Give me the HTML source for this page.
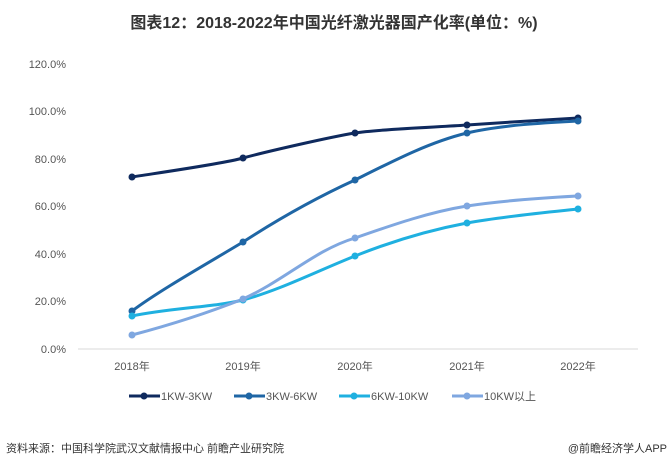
<!DOCTYPE html>
<html><head><meta charset="utf-8"><style>
body{margin:0;background:#fff;width:669px;height:470px;overflow:hidden;font-family:"Liberation Sans","Noto Sans CJK SC",sans-serif}
</style></head><body>
<svg width="669" height="470" xmlns="http://www.w3.org/2000/svg" font-family="Liberation Sans, Noto Sans CJK SC, sans-serif">
<text x="334" y="28" text-anchor="middle" font-size="16" font-weight="bold" fill="#333">图表12：2018-2022年中国光纤激光器国产化率(单位：%)</text>
<g font-size="11" fill="#555" text-anchor="end">
<text x="66" y="68">120.0%</text><text x="66" y="115">100.0%</text><text x="66" y="163">80.0%</text>
<text x="66" y="210">60.0%</text><text x="66" y="258">40.0%</text><text x="66" y="305">20.0%</text><text x="66" y="353">0.0%</text>
</g>
<line x1="78" y1="349" x2="638" y2="349" stroke="#d9d9d9"/>
<g font-size="11" fill="#555" text-anchor="middle">
<text x="132" y="370">2018年</text><text x="243" y="370">2019年</text><text x="355" y="370">2020年</text><text x="467" y="370">2021年</text><text x="578" y="370">2022年</text>
</g>
<g fill="none" stroke-width="3">
<path id="a" d="M132,177 C150,174 222,164 243,158 C265,152 330,137 355,133 C380,129 440,127 467,125 C495,123 560,119 578,118" stroke="#0f2a5e"/>
<path d="M132,311 C160,290 210,262 243,242 C280,218 320,196 355,180 C395,160 430,142 467,133 C505,124 560,122 578,121" stroke="#1f66a5"/>
<path d="M132,316 C170,308 215,307 243,300 C280,290 315,272 355,256 C395,240 430,230 467,223 C505,216 560,211 578,209" stroke="#1fb0e0"/>
<path d="M132,335 C170,325 210,312 243,299 C285,280 315,250 355,238 C395,224 430,212 467,206 C505,200 560,197 578,196" stroke="#7fa7e0"/>
</g>
<g fill="#0f2a5e"><circle cx="132" cy="177" r="3.5"/><circle cx="243" cy="158" r="3.5"/><circle cx="355" cy="133" r="3.5"/><circle cx="467" cy="125" r="3.5"/><circle cx="578" cy="118" r="3.5"/></g>
<g fill="#1f66a5"><circle cx="132" cy="311" r="3.5"/><circle cx="243" cy="242" r="3.5"/><circle cx="355" cy="180" r="3.5"/><circle cx="467" cy="133" r="3.5"/><circle cx="578" cy="121" r="3.5"/></g>
<g fill="#1fb0e0"><circle cx="132" cy="316" r="3.5"/><circle cx="243" cy="300" r="3.5"/><circle cx="355" cy="256" r="3.5"/><circle cx="467" cy="223" r="3.5"/><circle cx="578" cy="209" r="3.5"/></g>
<g fill="#7fa7e0"><circle cx="132" cy="335" r="3.5"/><circle cx="243" cy="299" r="3.5"/><circle cx="355" cy="238" r="3.5"/><circle cx="467" cy="206" r="3.5"/><circle cx="578" cy="196" r="3.5"/></g>
<g stroke-width="3">
<line x1="129" y1="396" x2="160" y2="396" stroke="#0f2a5e"/><circle cx="144" cy="396" r="3.5" fill="#0f2a5e"/>
<line x1="234" y1="396" x2="265" y2="396" stroke="#1f66a5"/><circle cx="249" cy="396" r="3.5" fill="#1f66a5"/>
<line x1="339" y1="396" x2="370" y2="396" stroke="#1fb0e0"/><circle cx="354" cy="396" r="3.5" fill="#1fb0e0"/>
<line x1="452" y1="396" x2="483" y2="396" stroke="#7fa7e0"/><circle cx="467" cy="396" r="3.5" fill="#7fa7e0"/>
</g>
<g font-size="11" fill="#555">
<text x="161" y="400">1KW-3KW</text><text x="266" y="400">3KW-6KW</text><text x="371" y="400">6KW-10KW</text><text x="484" y="400">10KW以上</text>
</g>
<text x="6" y="452" font-size="11" fill="#333">资料来源：中国科学院武汉文献情报中心 前瞻产业研究院</text>
<text x="667" y="452" font-size="11" fill="#333" text-anchor="end">@前瞻经济学人APP</text>
</svg>
</body></html>
